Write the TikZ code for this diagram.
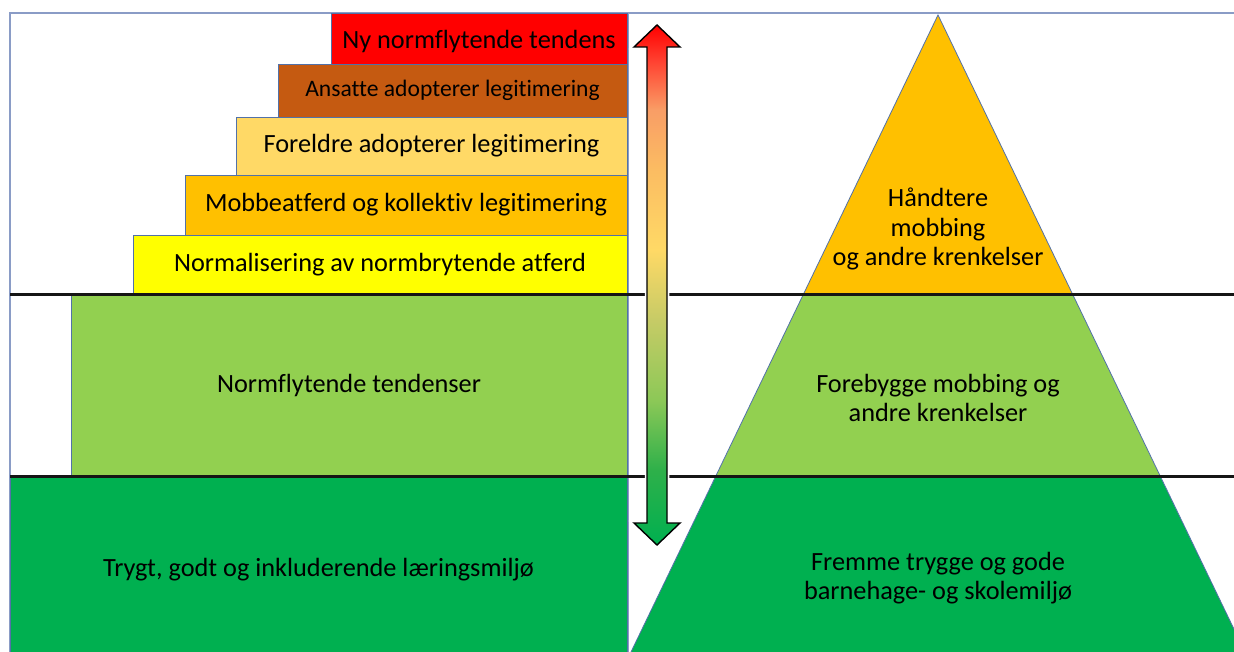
\documentclass[tikz,border=0pt]{standalone}
\usepackage{fontspec}
\setmainfont{Carlito}[Ligatures=NoCommon]
\definecolor{cRed}{HTML}{FF0000}
\definecolor{cBrown}{HTML}{C55A11}
\definecolor{cLightYellow}{HTML}{FFD966}
\definecolor{cOrange}{HTML}{FFC000}
\definecolor{cYellow}{HTML}{FFFF00}
\definecolor{cLightGreen}{HTML}{92D050}
\definecolor{cGreen}{HTML}{00B050}
\definecolor{cBorder}{HTML}{5271A8}
\definecolor{cFrame}{HTML}{8A9CC6}
\definecolor{cLine}{HTML}{151515}
\definecolor{aG0}{HTML}{00B050}
\definecolor{aG1}{HTML}{2EB04A}
\definecolor{aG2}{HTML}{8CC857}
\definecolor{aG3}{HTML}{C6CB66}
\definecolor{aG4}{HTML}{FFD966}
\definecolor{aG5}{HTML}{FBBC62}
\definecolor{aG6}{HTML}{F99E66}
\definecolor{aG7}{HTML}{FF4030}
\definecolor{aG8}{HTML}{FF0000}
\pgfdeclareverticalshading{arrowshade}{100bp}{color(0bp)=(aG0); color(25bp)=(aG0); color(32.2bp)=(aG1); color(38.9bp)=(aG2); color(46.6bp)=(aG3); color(53.4bp)=(aG4); color(61.1bp)=(aG5); color(66.8bp)=(aG6); color(71.6bp)=(aG7); color(75bp)=(aG8); color(100bp)=(aG8)}
\tikzset{
  stepbox/.style={draw=cBorder, line width=0.8pt, inner sep=0pt, outer sep=0pt,
    font=\fontsize{26.3}{30}\selectfont, align=center, text=black},
  tritext/.style={inner sep=0pt, font=\fontsize{26.3}{29.5}\selectfont, align=center, text=black},
  frameline/.style={draw=cFrame, line width=1.2pt},
  sepline/.style={draw=cLine, line width=3pt},
  triside/.style={draw=cBorder, line width=0.8pt},
}
\begin{document}
\begin{tikzpicture}[x=1pt, y=-1pt]
\clip (0,0) rectangle (1234,652);
\fill[white] (0,0) rectangle (1234,652);

% frame
\draw[frameline] (10,670) -- (10,13) -- (1250,13);
\draw[frameline] (628,13) -- (628,670);

% left stairs
\node[stepbox, fill=cGreen, minimum width=617pt, minimum height=188pt, anchor=north east] (trygt) at (627,476) {Trygt, godt og inkluderende læringsmiljø};
\node[stepbox, fill=cLightGreen, minimum width=556pt, minimum height=181pt, anchor=north east] (normfl) at (627,295) {Normflytende tendenser};
\node[stepbox, fill=cYellow, minimum width=494pt, minimum height=60pt, anchor=north east] (normal) at (627,235) {Normalisering av normbrytende atferd};
\node[stepbox, fill=cOrange, minimum width=442pt, minimum height=60pt, anchor=north east] (mobb) at (627,175) {Mobbeatferd og kollektiv legitimering};
\node[stepbox, fill=cLightYellow, minimum width=391pt, minimum height=58pt, anchor=north east] (foreldre) at (627,117) {Foreldre adopterer legitimering};
\node[stepbox, fill=cBrown, minimum width=349pt, minimum height=53pt, anchor=north east, font=\fontsize{23.6}{27}\selectfont] (ansatte) at (627,64) {Ansatte adopterer legitimering};
\node[stepbox, fill=cRed, minimum width=296pt, minimum height=51pt, anchor=north east] (nybox) at (627,13) {};
\node[tritext] (ny) at (479,41) {Ny normflytende tendens};

% triangle
\coordinate (apex) at (938,15);
\coordinate (bl) at (631,652);
\coordinate (br) at (1245,652);
\fill[cOrange] (apex) -- (1073,295) -- (803,295) -- cycle;
\fill[cLightGreen] (803,295) -- (1073,295) -- (1160,476) -- (716,476) -- cycle;
\fill[cGreen] (716,476) -- (1160,476) -- (br) -- (bl) -- cycle;
\draw[triside] (bl) -- (apex) -- (br);

\node[tritext] (handtere) at (938,229) {Håndtere\\mobbing\\og andre krenkelser};
\node[tritext] (forebygge) at (938,398) {Forebygge mobbing og\\andre krenkelser};
\node[tritext] (fremme) at (938,578) {Fremme trygge og gode\\barnehage- og skolemiljø};

% separator lines
\draw[sepline] (10,295) -- (1250,295);
\draw[sepline] (10,476) -- (1250,476);

% double arrow
\shade[shading=arrowshade, draw=black, line width=1.4pt, line join=miter,
  preaction={draw=white, line width=4.5pt}]
  (657,25) -- (680,47) -- (667,47) -- (667,523) -- (680,523) -- (657,545)
  -- (634,523) -- (647,523) -- (647,47) -- (634,47) -- cycle;
\end{tikzpicture}
\end{document}
